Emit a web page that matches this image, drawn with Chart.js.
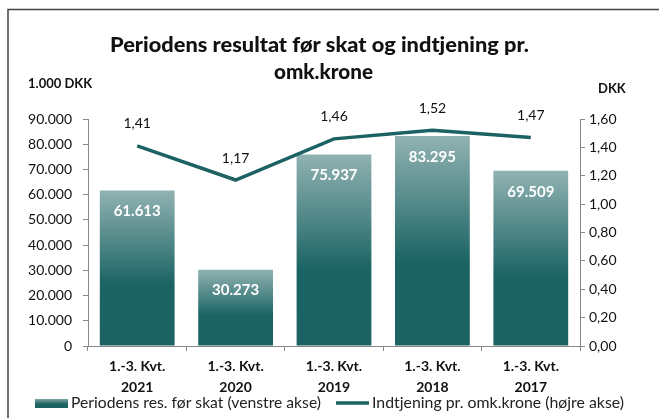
<!DOCTYPE html>
<html>
<head>
<meta charset="utf-8">
<script src="https://cdn.jsdelivr.net/npm/chart.js@4"></script>
<style>
    html, body { margin: 0; padding: 0; background: #fff; }
    #wrap { position: relative; width: 659px; height: 418px; }
</style>
</head>
<body>
<div id="wrap"><canvas id="resultChart" width="659" height="418"></canvas></div>
<script>

const periods = [
    ['1.-3. Kvt.', '2021'],
    ['1.-3. Kvt.', '2020'],
    ['1.-3. Kvt.', '2019'],
    ['1.-3. Kvt.', '2018'],
    ['1.-3. Kvt.', '2017'],
];

const resultBeforeTax = [61613, 30273, 75937, 83295, 69509];

const earningsPerCostKrone = [1.41, 1.17, 1.46, 1.52, 1.47];

const barLabel = 'Periodens res. før skat (venstre akse)';
const lineLabel = 'Indtjening pr. omk.krone (højre akse)';

const FONT = 'Lato, "Open Sans", sans-serif';
const TEAL = '#1c6262';


function formatThousands(v) {
    return Math.round(v).toString().replace(/\B(?=(\d{3})+(?!\d))/g, '.');
}

function formatDecimal(v) {
    return v.toFixed(2).replace('.', ',');
}


function barGradient(context) {

    const chart = context.chart;
    const scale = chart.scales.y;

    if (!chart.chartArea || !scale || context.raw === undefined) {
        return TEAL;
    }

    const top = scale.getPixelForValue(context.raw);
    const bottom = scale.getPixelForValue(0);

    const gradient = chart.ctx.createLinearGradient(0, top, 0, bottom);

    gradient.addColorStop(0, '#91b2b2');
    gradient.addColorStop(0.6, '#1c6464');
    gradient.addColorStop(1, '#1c6262');

    return gradient;

}


// text squeezed or stretched sideways to a given width (the source font is wider than Lato)
function fitText(ctx, text, x, y, width) {

    const natural = ctx.measureText(text).width;

    ctx.save();
    ctx.translate(x, y);
    ctx.scale(width / natural, 1);
    ctx.fillText(text, 0, 0);
    ctx.restore();

}


// frame, title, axis units, value labels and legend
const decorations = {

    id: 'decorations',

    afterDraw(chart) {

        const ctx = chart.ctx;

        ctx.save();

        // frame
        ctx.strokeStyle = '#444';
        ctx.lineWidth = 1.5;
        ctx.beginPath();
        ctx.moveTo(8, 420);
        ctx.lineTo(8, 9.5);
        ctx.lineTo(662, 9.5);
        ctx.stroke();

        // title
        ctx.fillStyle = '#111';
        ctx.textAlign = 'left';
        ctx.textBaseline = 'middle';
        ctx.font = '900 21px ' + FONT;
        fitText(ctx, 'Periodens resultat før skat og indtjening pr.', 110, 45, 419);
        fitText(ctx, 'omk.krone', 274, 72, 99);

        // axis units
        ctx.font = 'bold 13px ' + FONT;
        ctx.fillText('1.000 DKK', 28, 84);
        ctx.fillText('DKK', 598, 89);

        // bar values
        const barMeta = chart.getDatasetMeta(0);
        ctx.font = 'bold 15px ' + FONT;
        ctx.fillStyle = '#fff';
        ctx.textAlign = 'center';
        barMeta.data.forEach((bar, i) => {
            ctx.fillText(formatThousands(resultBeforeTax[i]), bar.x, bar.y + 21);
        });

        // line values
        const lineMeta = chart.getDatasetMeta(1);
        ctx.font = '14px ' + FONT;
        ctx.fillStyle = '#111';
        lineMeta.data.forEach((pt, i) => {
            ctx.fillText(formatDecimal(earningsPerCostKrone[i]), pt.x, pt.y - 22);
        });

        // legend
        const legendY = 403;
        const swatch = ctx.createLinearGradient(0, legendY - 5, 0, legendY + 5);
        swatch.addColorStop(0, '#91b2b2');
        swatch.addColorStop(0.6, '#1c6464');
        swatch.addColorStop(1, '#1c6262');
        ctx.fillStyle = swatch;
        ctx.fillRect(35, legendY - 4, 33, 9);

        ctx.font = '15px ' + FONT;
        ctx.fillStyle = '#222';
        ctx.textAlign = 'left';
        fitText(ctx, barLabel, 71, legendY, 250);

        ctx.strokeStyle = TEAL;
        ctx.lineWidth = 3.5;
        ctx.beginPath();
        ctx.moveTo(336, legendY);
        ctx.lineTo(369, legendY);
        ctx.stroke();

        fitText(ctx, lineLabel, 372, legendY, 252);

        ctx.restore();

    }

};


const canvas = document.getElementById('resultChart');

new Chart(canvas, {

    type: 'bar',

    data: {

        labels: periods,

        datasets: [
            {
                type: 'bar',
                label: barLabel,
                data: resultBeforeTax,
                yAxisID: 'y',
                backgroundColor: barGradient,
                borderWidth: 0,
                barPercentage: 0.76,
                categoryPercentage: 1,
                order: 2,
            },
            {
                type: 'line',
                label: lineLabel,
                data: earningsPerCostKrone,
                yAxisID: 'y1',
                borderColor: TEAL,
                backgroundColor: TEAL,
                borderWidth: 3.5,
                pointRadius: 0,
                tension: 0,
                fill: false,
                order: 1,
            }
        ]

    },

    options: {

        responsive: false,

        animation: false,

        layout: {
            padding: { top: 119, left: 0, right: 0, bottom: 0 },
        },

        plugins: {
            legend: { display: false },
            title: { display: false },
            tooltip: { enabled: false },
        },

        scales: {

            x: {
                offset: true,
                grid: {
                    offset: true,
                    drawOnChartArea: false,
                    drawTicks: true,
                    tickLength: 5,
                    color: '#888',
                },
                border: { color: '#888', width: 1 },
                ticks: {
                    color: '#111',
                    font: { family: FONT, size: 14, weight: 'bold', lineHeight: 1.5 },
                    padding: 5,
                    maxRotation: 0,
                },
                afterFit(scale) {
                    scale.height = 72;
                },
            },

            y: {
                position: 'left',
                min: 0,
                max: 90000,
                ticks: {
                    stepSize: 10000,
                    color: '#111',
                    font: { family: FONT, size: 14 },
                    padding: 11,
                    callback: v => formatThousands(v),
                },
                grid: {
                    drawOnChartArea: false,
                    drawTicks: true,
                    tickLength: 5,
                    color: '#888',
                },
                border: { color: '#888', width: 1 },
                afterFit(scale) {
                    scale.width = 88;
                },
            },

            y1: {
                position: 'right',
                min: 0,
                max: 1.6,
                ticks: {
                    stepSize: 0.2,
                    color: '#111',
                    font: { family: FONT, size: 14 },
                    padding: 4,
                    callback: v => formatDecimal(v),
                },
                grid: {
                    drawOnChartArea: false,
                    drawTicks: true,
                    tickLength: 5,
                    color: '#888',
                },
                border: { color: '#888', width: 1 },
                afterFit(scale) {
                    scale.width = 79;
                },
            }

        }

    },

    plugins: [decorations]

});

</script>
</body>
</html>
